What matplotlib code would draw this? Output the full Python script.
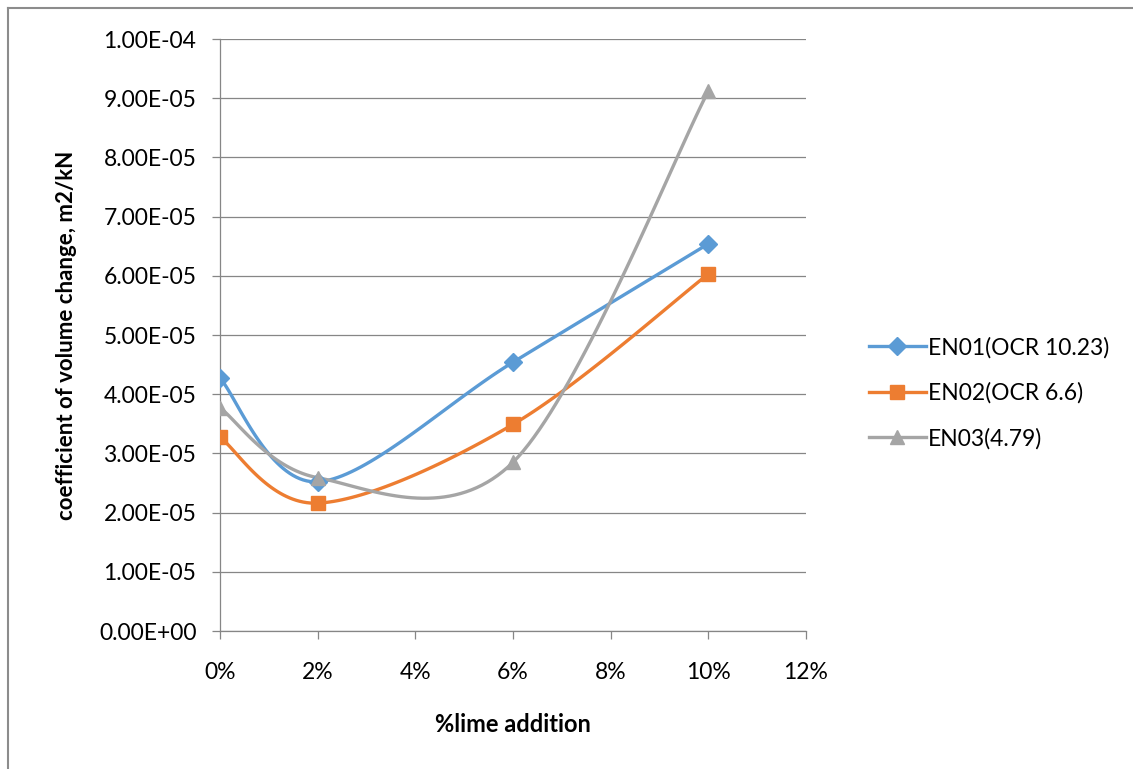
import numpy as np
import matplotlib.pyplot as plt
from matplotlib.ticker import FuncFormatter, MultipleLocator
from matplotlib.lines import Line2D

# Data
lime_pct = [0, 2, 6, 10]
en01 = [4.27e-5, 2.52e-5, 4.54e-5, 6.54e-5]
en02 = [3.27e-5, 2.16e-5, 3.49e-5, 6.03e-5]
en03 = [3.77e-5, 2.59e-5, 2.85e-5, 9.12e-5]
labels = ['EN01(OCR 10.23)', 'EN02(OCR 6.6)', 'EN03(4.79)']

XMAX, YMAX = 12, 1e-4


def smooth(xs, ys, n=40):
    # Excel-like smoothed line: Catmull-Rom through the points, as cubic Beziers
    px = np.asarray(xs, float) / XMAX
    py = np.asarray(ys, float) / YMAX
    pts = np.column_stack([px, py])
    out = []
    for i in range(len(pts) - 1):
        p0 = pts[max(i - 1, 0)]
        p1 = pts[i]
        p2 = pts[i + 1]
        p3 = pts[min(i + 2, len(pts) - 1)]
        c1 = p1 + (p2 - p0) / 6
        c2 = p2 - (p3 - p1) / 6
        t = np.linspace(0, 1, n)[:, None]
        seg = ((1 - t) ** 3) * p1 + 3 * ((1 - t) ** 2) * t * c1 + 3 * (1 - t) * t ** 2 * c2 + t ** 3 * p2
        out.append(seg if i == 0 else seg[1:])
    seg = np.vstack(out)
    return seg[:, 0] * XMAX, seg[:, 1] * YMAX


fig = plt.figure(figsize=(11.33, 7.69), dpi=100)
plt.rcParams['font.family'] = ['Lato', 'DejaVu Sans']
ax = fig.add_axes([220 / 1133, 1 - 631 / 769, 586 / 1133, 592 / 769])

series = [
    (en01, '#5B9BD5', 'D', 9),
    (en02, '#ED7D31', 's', 10),
    (en03, '#A5A5A5', '^', 10.5),
]
handles = []
for (ys, col, mk, ms), lab in zip(series, labels):
    sx, sy = smooth(lime_pct, ys)
    ax.plot(sx, sy, color=col, linewidth=2.4, zorder=3, solid_capstyle='round')
    ax.plot(lime_pct, ys, linestyle='none', marker=mk, markersize=ms, color=col, zorder=4)
    handles.append(Line2D([0], [0], color=col, linewidth=2.4, marker=mk, markersize=ms, label=lab))

ax.set_xlim(0, XMAX)
ax.set_ylim(0, YMAX)
ax.xaxis.set_major_locator(MultipleLocator(2))
ax.yaxis.set_major_locator(MultipleLocator(1e-5))
ax.xaxis.set_major_formatter(FuncFormatter(lambda v, p: f'{v:.0f}%'))
ax.yaxis.set_major_formatter(FuncFormatter(lambda v, p: f'{v:.2E}'))

ax.grid(axis='y', color='#868686', linewidth=0.9)
ax.set_axisbelow(True)
for s in ['top', 'right']:
    ax.spines[s].set_visible(False)
for s in ['left', 'bottom']:
    ax.spines[s].set_color('#868686')
    ax.spines[s].set_linewidth(0.9)
ax.tick_params(axis='both', colors='#868686', length=6, width=0.9, labelsize=16.5, labelcolor='black')
ax.tick_params(axis='x', pad=16)
ax.tick_params(axis='y', pad=11)

ax.set_xlabel('%lime addition', fontsize=17, fontweight='bold', labelpad=22)
ax.set_ylabel('coefficient of volume change, m2/kN', fontsize=16, fontweight='bold', labelpad=16)

fig.legend(handles=handles, loc='center left', bbox_to_anchor=(848 / 1133, 1 - 393 / 769),
           frameon=False, fontsize=16.5, handlelength=2.5, labelspacing=1.05, handletextpad=0.1)

# outer chart border (left and top visible)
fig.add_artist(Line2D([8 / 1133, 8 / 1133], [0, 1 - 8 / 769], color='#8C8C8C', linewidth=1.5))
fig.add_artist(Line2D([8 / 1133, 1], [1 - 8 / 769, 1 - 8 / 769], color='#8C8C8C', linewidth=1.5))

fig.savefig('out.png', dpi=100)
